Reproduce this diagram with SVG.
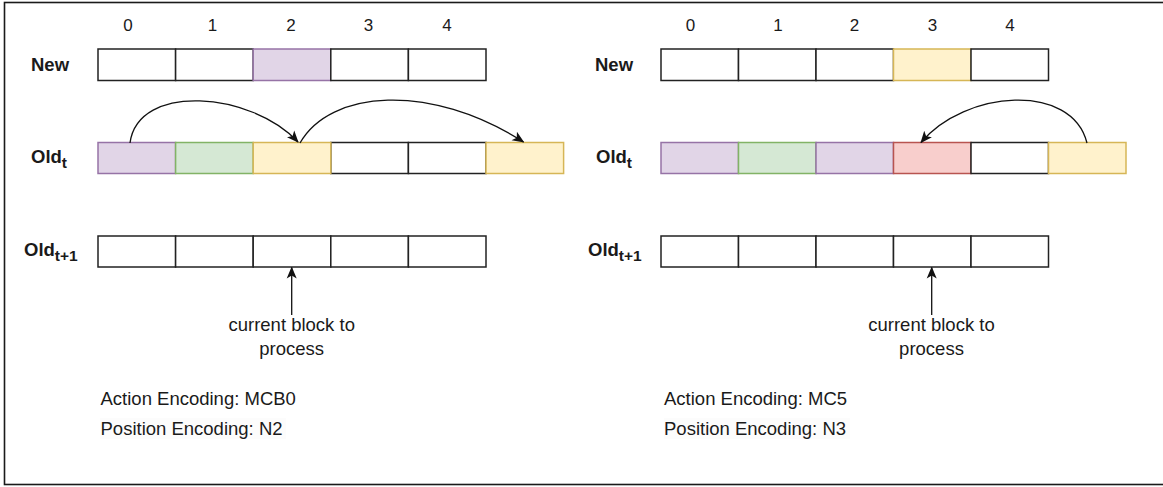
<svg xmlns="http://www.w3.org/2000/svg" width="1163" height="487" viewBox="0 0 1163 487">
<style>
text{font-family:"Liberation Sans",Arial,Helvetica,sans-serif;fill:#1a1a1a}
.num{font-size:17px;text-anchor:middle}
.lbl{font-size:18.5px;font-weight:bold}
.sub{font-size:15.5px}
.body{font-size:18.5px}
.mid{text-anchor:middle}
.c{stroke-width:1.5}
.w{fill:#fff;stroke:#222}
.p{fill:#e1d5e7;stroke:#9673a6}
.g{fill:#d5e8d4;stroke:#82b366}
.y{fill:#fff2cc;stroke:#d6b656}
.r{fill:#f8cecc;stroke:#b85450}
.edge{fill:none;stroke:#111;stroke-width:1.3}
</style>
<defs>
<marker id="ah" markerWidth="12" markerHeight="12" refX="11" refY="6" orient="auto" markerUnits="userSpaceOnUse" viewBox="0 0 12 12">
<path d="M0,1 L12,6 L0,11 L3,6 Z" fill="#111"/>
</marker>
</defs>
<rect x="0" y="0" width="1163" height="487" fill="#fff"/>
<rect x="4.5" y="2.5" width="1165" height="482" fill="none" stroke="#1a1a1a" stroke-width="1.6"/>

<g id="left-indices">
<text class="num" x="128" y="31">0</text>
<text class="num" x="212.5" y="31">1</text>
<text class="num" x="291" y="31">2</text>
<text class="num" x="368.5" y="31">3</text>
<text class="num" x="447" y="31">4</text>
</g>
<g id="right-indices">
<text class="num" x="690.5" y="31">0</text>
<text class="num" x="778" y="31">1</text>
<text class="num" x="854.5" y="31">2</text>
<text class="num" x="932.5" y="31">3</text>
<text class="num" x="1010" y="31">4</text>
</g>

<g id="left-new">
<text class="lbl" x="31" y="70.5">New</text>
<rect class="c w" x="98" y="49" width="77.6" height="31.5"/>
<rect class="c w" x="175.6" y="49" width="77.6" height="31.5"/>
<rect class="c p" x="253.2" y="49" width="77.6" height="31.5"/>
<rect class="c w" x="330.8" y="49" width="77.6" height="31.5"/>
<rect class="c w" x="408.4" y="49" width="77.6" height="31.5"/>
</g>
<g id="left-old-t">
<text class="lbl" x="31" y="163">Old<tspan class="sub" dy="5">t</tspan></text>
<rect class="c p" x="98" y="142.5" width="77.6" height="31"/>
<rect class="c g" x="175.6" y="142.5" width="77.6" height="31"/>
<rect class="c w" x="330.8" y="142.5" width="77.6" height="31"/>
<rect class="c w" x="408.4" y="142.5" width="77.6" height="31"/>
<rect class="c y" x="253.2" y="142.5" width="77.6" height="31"/>
<rect class="c y" x="486" y="142.5" width="77.6" height="31"/>
</g>
<g id="left-old-t1">
<text class="lbl" x="24" y="256">Old<tspan class="sub" dy="5">t+1</tspan></text>
<rect class="c w" x="98" y="236" width="77.6" height="31"/>
<rect class="c w" x="175.6" y="236" width="77.6" height="31"/>
<rect class="c w" x="253.2" y="236" width="77.6" height="31"/>
<rect class="c w" x="330.8" y="236" width="77.6" height="31"/>
<rect class="c w" x="408.4" y="236" width="77.6" height="31"/>
</g>
<g id="left-caption">
<text class="body mid" x="291.7" y="331">current block to</text>
<text class="body mid" x="291.7" y="355">process</text>
</g>
<g id="left-encoding">
<text class="body" x="100.5" y="405">Action Encoding: MCB0</text>
<rect x="100" y="418" width="186" height="21" fill="#fcfcfc"/>
<text class="body" x="100.5" y="434.5">Position Encoding: N2</text>
</g>

<g id="right-new">
<text class="lbl" x="595" y="70.5">New</text>
<rect class="c w" x="661" y="49" width="77.5" height="31.5"/>
<rect class="c w" x="738.5" y="49" width="77.5" height="31.5"/>
<rect class="c w" x="816" y="49" width="77.5" height="31.5"/>
<rect class="c y" x="893.5" y="49" width="77.5" height="31.5"/>
<rect class="c w" x="971" y="49" width="77.5" height="31.5"/>
</g>
<g id="right-old-t">
<text class="lbl" x="596" y="163">Old<tspan class="sub" dy="5">t</tspan></text>
<rect class="c p" x="661" y="142.5" width="77.5" height="31"/>
<rect class="c g" x="738.5" y="142.5" width="77.5" height="31"/>
<rect class="c p" x="816" y="142.5" width="77.5" height="31"/>
<rect class="c r" x="893.5" y="142.5" width="77.5" height="31"/>
<rect class="c w" x="971" y="142.5" width="77.5" height="31"/>
<rect class="c y" x="1048.5" y="142.5" width="77.5" height="31"/>
</g>
<g id="right-old-t1">
<text class="lbl" x="588" y="256">Old<tspan class="sub" dy="5">t+1</tspan></text>
<rect class="c w" x="661" y="236" width="77.5" height="31"/>
<rect class="c w" x="738.5" y="236" width="77.5" height="31"/>
<rect class="c w" x="816" y="236" width="77.5" height="31"/>
<rect class="c w" x="893.5" y="236" width="77.5" height="31"/>
<rect class="c w" x="971" y="236" width="77.5" height="31"/>
</g>
<g id="right-caption">
<text class="body mid" x="931.5" y="331">current block to</text>
<text class="body mid" x="931.5" y="355">process</text>
</g>
<g id="right-encoding">
<text class="body" x="664" y="405">Action Encoding: MC5</text>
<rect x="664" y="418" width="186" height="21" fill="#fcfcfc"/>
<text class="body" x="664" y="434.5">Position Encoding: N3</text>
</g>

<g id="connectors">
<path class="edge" d="M130,143 C138,82 252,92 298,142" marker-end="url(#ah)"/>
<path class="edge" d="M300,143 C330,90 430,82 523.5,142" marker-end="url(#ah)"/>
<path class="edge" d="M1087,143 C1072,82 965,90 921,142.5" marker-end="url(#ah)"/>
<path class="edge" d="M291.7,315 L291.7,267.5" marker-end="url(#ah)"/>
<path class="edge" d="M931.7,315 L931.7,267.5" marker-end="url(#ah)"/>
</g>
</svg>
